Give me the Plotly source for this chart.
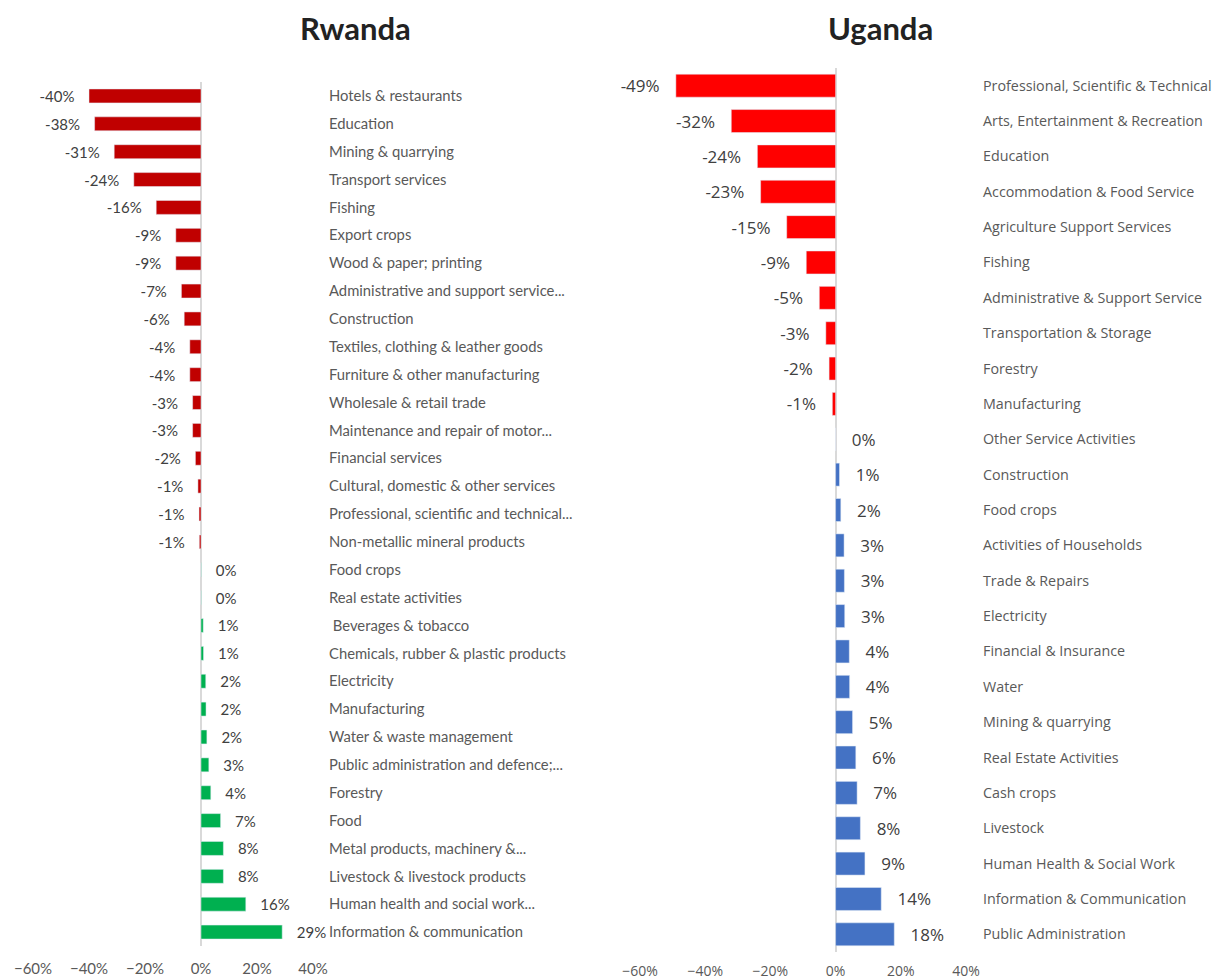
import plotly.graph_objects as go

# ── Data ─────────────────────────────────────────────────────────────────────
rw_sectors = [
    "Hotels & restaurants", "Education", "Mining & quarrying", "Transport services",
    "Fishing", "Export crops", "Wood & paper; printing",
    "Administrative and support service...", "Construction",
    "Textiles, clothing & leather goods", "Furniture & other manufacturing",
    "Wholesale & retail trade", "Maintenance and repair of motor...",
    "Financial services", "Cultural, domestic & other services",
    "Professional, scientific and technical...", "Non-metallic mineral products",
    "Food crops", "Real estate activities", "\u00a0Beverages & tobacco",
    "Chemicals, rubber & plastic products", "Electricity", "Manufacturing",
    "Water & waste management", "Public administration and defence;...",
    "Forestry", "Food", "Metal products, machinery &...",
    "Livestock & livestock products", "Human health and social work...",
    "Information & communication",
]
rw_change = [
    -0.40, -0.38, -0.31, -0.24, -0.16, -0.09, -0.09, -0.07, -0.06, -0.04,
    -0.04, -0.03, -0.03, -0.02, -0.011, -0.007, -0.006, 0.001, 0.001, 0.008,
    0.009, 0.017, 0.018, 0.021, 0.028, 0.035, 0.07, 0.08, 0.08, 0.16, 0.29,
]

ug_sectors = [
    "Professional, Scientific & Technical", "Arts, Entertainment & Recreation",
    "Education", "Accommodation & Food Service", "Agriculture Support Services",
    "Fishing", "Administrative & Support Service", "Transportation & Storage",
    "Forestry", "Manufacturing", "Other Service Activities", "Construction",
    "Food crops", "Activities of Households", "Trade & Repairs", "Electricity",
    "Financial & Insurance", "Water", "Mining & quarrying",
    "Real Estate Activities", "Cash crops", "Livestock",
    "Human Health & Social Work", "Information & Communication",
    "Public Administration",
]
ug_change = [
    -0.49, -0.32, -0.24, -0.23, -0.15, -0.09, -0.05, -0.03, -0.02, -0.01,
    0.0, 0.012, 0.016, 0.026, 0.027, 0.028, 0.042, 0.043, 0.052, 0.062,
    0.066, 0.076, 0.09, 0.14, 0.18,
]

x_ticks = [-0.6, -0.4, -0.2, 0.0, 0.2, 0.4]

# ── Style ────────────────────────────────────────────────────────────────────
# page body has an 8px margin: positions are given in window pixels and
# shifted by OFF so the figure lines up with the window
OFF = 8
W, H = 1225 - OFF, 979 - OFF
GREY_TXT = "#595959"
VAL_TXT = "#404040"
PAD = "\u00a0\u00a0\u00a0"

def px_x(p): return (p - OFF) / W
def px_y(p): return 1 - (p - OFF) / H

fig = go.Figure()

fig.add_trace(go.Bar(
    x=rw_change, y=rw_sectors, orientation="h",
    xaxis="x", yaxis="y", width=0.5,
    marker_color=["#C00000" if v < 0 else "#00B050" for v in rw_change],
    texttemplate=[PAD + "%{x:.0%}" if v >= 0 else "%{x:.0%}" + PAD for v in rw_change],
    textposition="outside", constraintext="none", cliponaxis=False,
    textfont=dict(family="Lato", size=15, color=VAL_TXT),
    showlegend=False,
))
fig.add_trace(go.Bar(
    x=ug_change, y=ug_sectors, orientation="h",
    xaxis="x2", yaxis="y2", width=0.65,
    marker_color=["#FF0000" if v < 0 else "#4472C4" for v in ug_change],
    texttemplate=[PAD + "%{x:.0%}" if v >= 0 else "%{x:.0%}" + PAD for v in ug_change],
    textposition="outside", constraintext="none", cliponaxis=False,
    textfont=dict(family="Open Sans", size=17, color=VAL_TXT),
    showlegend=False,
))

axis_common = dict(
    tickvals=x_ticks, tickformat=".0%", range=[-0.6, 0.4],
    showgrid=False, showline=False, ticks="", automargin=False,
    zeroline=True, zerolinecolor="#D9D9D9",
)
yaxis_common = dict(
    anchor="free", side="right", automargin=False,
    showgrid=False, showline=False, zeroline=False, ticks="",
)

fig.update_layout(
    width=W, height=H,
    margin=dict(l=0, r=0, t=0, b=0, autoexpand=False),
    paper_bgcolor="white", plot_bgcolor="white",
    xaxis=dict(**axis_common, domain=[px_x(33), px_x(313)], anchor="y",
               zerolinewidth=1.5, ticklabelstandoff=12,
               tickfont=dict(family="Lato", size=15, color=GREY_TXT)),
    yaxis=dict(**yaxis_common, domain=[px_y(946), px_y(82)], range=[30.5, -0.5],
               position=px_x(328),
               tickfont=dict(family="Lato", size=14.8, color=GREY_TXT)),
    xaxis2=dict(**axis_common, domain=[px_x(640), px_x(966)], anchor="y2",
                zerolinewidth=2, ticklabelstandoff=9,
                tickfont=dict(family="Open Sans", size=14, color=GREY_TXT)),
    yaxis2=dict(**yaxis_common, domain=[px_y(952), px_y(68)], range=[24.5, -0.5],
                position=px_x(982),
                tickfont=dict(family="Open Sans", size=14.3, color=GREY_TXT)),
    annotations=[
        dict(text="<b>Rwanda</b>", x=px_x(355), y=px_y(28), xref="paper", yref="paper",
             showarrow=False, xanchor="center", yanchor="middle",
             font=dict(family="Lato", size=31, color="#222222")),
        dict(text="<b>Uganda</b>", x=px_x(880), y=px_y(28), xref="paper", yref="paper",
             showarrow=False, xanchor="center", yanchor="middle",
             font=dict(family="Lato", size=31, color="#222222")),
    ],
)

fig.write_html("out.html")
